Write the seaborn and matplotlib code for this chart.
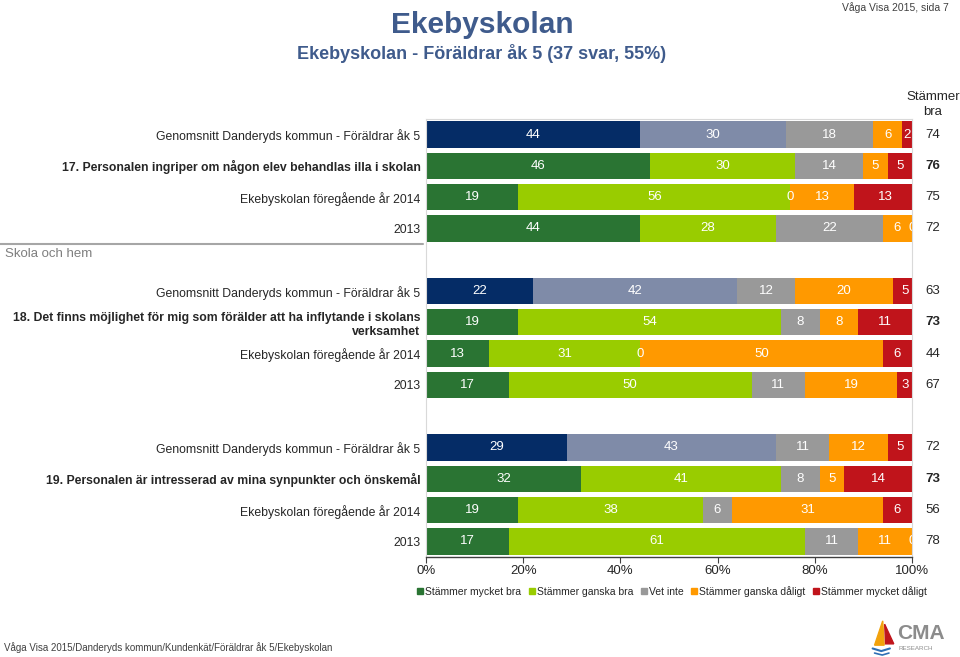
import pandas as pd
import matplotlib.pyplot as plt
import matplotlib.transforms as mtransforms
from matplotlib.patches import Patch, Polygon
from matplotlib.lines import Line2D
import seaborn as sns

# Data
categories = ['Stämmer mycket bra', 'Stämmer ganska bra', 'Vet inte',
              'Stämmer ganska dåligt', 'Stämmer mycket dåligt']

row_labels = [
    'Genomsnitt Danderyds kommun - Föräldrar åk 5',
    '17. Personalen ingriper om någon elev behandlas illa i skolan',
    'Ekebyskolan föregående år 2014',
    '2013',
    'Genomsnitt Danderyds kommun - Föräldrar åk 5',
    '18. Det finns möjlighet för mig som förälder att ha inflytande i skolans\nverksamhet',
    'Ekebyskolan föregående år 2014',
    '2013',
    'Genomsnitt Danderyds kommun - Föräldrar åk 5',
    '19. Personalen är intresserad av mina synpunkter och önskemål',
    'Ekebyskolan föregående år 2014',
    '2013',
]
row_kind = ['snitt', 'fraga', 'ar', 'ar'] * 3

mycket_bra = [44, 46, 19, 44, 22, 19, 13, 17, 29, 32, 19, 17]
ganska_bra = [30, 30, 56, 28, 42, 54, 31, 50, 43, 41, 38, 61]
vet_inte = [18, 14, 0, 22, 12, 8, 0, 11, 11, 8, 6, 11]
ganska_daligt = [6, 5, 13, 6, 20, 8, 50, 19, 12, 5, 31, 11]
mycket_daligt = [2, 5, 13, 0, 5, 11, 6, 3, 5, 14, 6, 0]
stammer_bra = [74, 76, 75, 72, 63, 73, 44, 67, 72, 73, 56, 78]

colors = {
    'Stämmer mycket bra': '#2A7433',
    'Stämmer ganska bra': '#99CC00',
    'Vet inte': '#999999',
    'Stämmer ganska dåligt': '#FF9900',
    'Stämmer mycket dåligt': '#C0141B',
}
snitt_colors = {'Stämmer mycket bra': '#052C66', 'Stämmer ganska bra': '#7F8BA8'}

# Bygg en lång tabell med kumulativa värden
keys = [f'rad{i}' for i in range(len(row_labels))]
order = keys[0:4] + ['gap1'] + keys[4:8] + ['gap2'] + keys[8:12]
series = [mycket_bra, ganska_bra, vet_inte, ganska_daligt, mycket_daligt]

records = []
for i, key in enumerate(keys):
    cum = 0
    for cat, vals in zip(categories, series):
        cum += vals[i]
        col = colors[cat]
        if row_kind[i] == 'snitt' and cat in snitt_colors:
            col = snitt_colors[cat]
        records.append({'rad': key, 'kategori': cat, 'varde': vals[i],
                        'kum': cum, 'farg': col})
df = pd.DataFrame(records)

sns.set_style('white')
plt.rcParams['font.family'] = ['Liberation Sans', 'DejaVu Sans']

fig = plt.figure(figsize=(9.6, 6.57), dpi=100)
ax = fig.add_axes([0.4437, 0.1522, 0.50625, 0.6667])

# Staplade staplar: rita kumulativa summor bakifrån
for cat in reversed(categories):
    sub = df[df['kategori'] == cat]
    pal = {c: c for c in sub['farg'].unique()}
    sns.barplot(data=sub, x='kum', y='rad', order=order, hue='farg',
                palette=pal, dodge=False, saturation=1, width=0.84,
                errorbar=None, legend=False, orient='h', linewidth=0, ax=ax)

# Värdeetiketter i segmenten
for _, r in df.iterrows():
    pos = order.index(r['rad'])
    center = r['kum'] - r['varde'] / 2
    ax.text(center, pos, str(r['varde']), color='white', ha='center',
            va='center', fontsize=9.5, clip_on=True)

ax.set_xlim(0, 100)
ax.set_ylim(len(order) - 0.5, -0.5)
ax.set_xticks([0, 20, 40, 60, 80, 100])
ax.set_xticklabels([f'{t}%' for t in [0, 20, 40, 60, 80, 100]], fontsize=9.5)
ax.set_xlabel('')
ax.set_ylabel('')

display = []
for k in order:
    display.append(row_labels[keys.index(k)] if k in keys else '')
ax.set_yticks(range(len(order)))
ax.set_yticklabels(display, fontsize=8.8)
for lbl, k in zip(ax.get_yticklabels(), order):
    if k in keys and row_kind[keys.index(k)] == 'fraga':
        lbl.set_fontweight('bold')
        lbl.set_fontsize(8.8)
ax.tick_params(axis='y', length=0, pad=4)
ax.tick_params(axis='x', length=4, direction='out', color='#404040', pad=2,
               bottom=True)

for side in ['top', 'right', 'left']:
    ax.spines[side].set_color('#D9D9D9')
    ax.spines[side].set_linewidth(0.8)
ax.spines['bottom'].set_color('#404040')
ax.spines['bottom'].set_linewidth(1)

# Kolumn "Stämmer bra"
trans = mtransforms.blended_transform_factory(ax.transAxes, ax.transData)
for i, key in enumerate(keys):
    pos = order.index(key)
    ax.text(1.043, pos, str(stammer_bra[i]), transform=trans, ha='center',
            va='center', fontsize=9.5,
            fontweight='bold' if row_kind[i] == 'fraga' else 'normal')
ax.text(1.043, -0.97, 'Stämmer\nbra', transform=trans, ha='center',
        va='center', fontsize=9.5, linespacing=1.3, clip_on=False)

# Områdesrubrik
ftrans = mtransforms.blended_transform_factory(fig.transFigure, ax.transData)
fig.add_artist(Line2D([0, 0.441], [3.5, 3.5], transform=ftrans,
                      color='#A6A6A6', lw=1.5))
fig.text(0.005, 3.8, 'Skola och hem', transform=ftrans, ha='left',
         va='center', fontsize=9.5, color='#7F7F7F')

# Teckenförklaring
handles = [Patch(color=colors[c], label=c) for c in categories]
fig.legend(handles=handles, loc='center', bbox_to_anchor=(0.70, 0.100),
           ncol=5, frameon=False, fontsize=7.5, handlelength=0.6,
           handleheight=0.6, handletextpad=0.2, columnspacing=0.7)

# Rubriker
fig.text(0.502, 0.962, 'Ekebyskolan', ha='center', va='center',
         fontsize=21.5, fontweight='bold', color='#3F5B8C')
fig.text(0.502, 0.918, 'Ekebyskolan - Föräldrar åk 5 (37 svar, 55%)',
         ha='center', va='center', fontsize=13, fontweight='bold',
         color='#3F5B8C')
fig.text(0.988, 0.988, 'Våga Visa 2015, sida 7', ha='right', va='center',
         fontsize=7.5, color='#404040')
fig.text(0.004, 0.014, 'Våga Visa 2015/Danderyds kommun/Kundenkät/Föräldrar åk 5/Ekebyskolan',
         ha='left', va='center', fontsize=7, color='#404040')

# Logotyp (segel och vågor)
fig.add_artist(Polygon([[0.9195, 0.055], [0.911, 0.018], [0.921, 0.018]],
                       closed=True, color='#F2A20C', transform=fig.transFigure))
fig.add_artist(Polygon([[0.9215, 0.050], [0.9225, 0.020], [0.931, 0.020]],
                       closed=True, color='#C0141B', transform=fig.transFigure))
fig.add_artist(Line2D([0.909, 0.918, 0.927], [0.013, 0.009, 0.013],
                      color='#2E6FB5', lw=1.5, transform=fig.transFigure))
fig.add_artist(Line2D([0.911, 0.919, 0.926], [0.006, 0.003, 0.006],
                      color='#2E6FB5', lw=1.2, transform=fig.transFigure))
fig.text(0.935, 0.0365, 'CMA', ha='left', va='center', fontsize=15,
         fontweight='bold', color='#8C8C8C')
fig.text(0.936, 0.013, 'RESEARCH', ha='left', va='center', fontsize=4.5,
         color='#8C8C8C')

fig.savefig('out.png', dpi=100)
